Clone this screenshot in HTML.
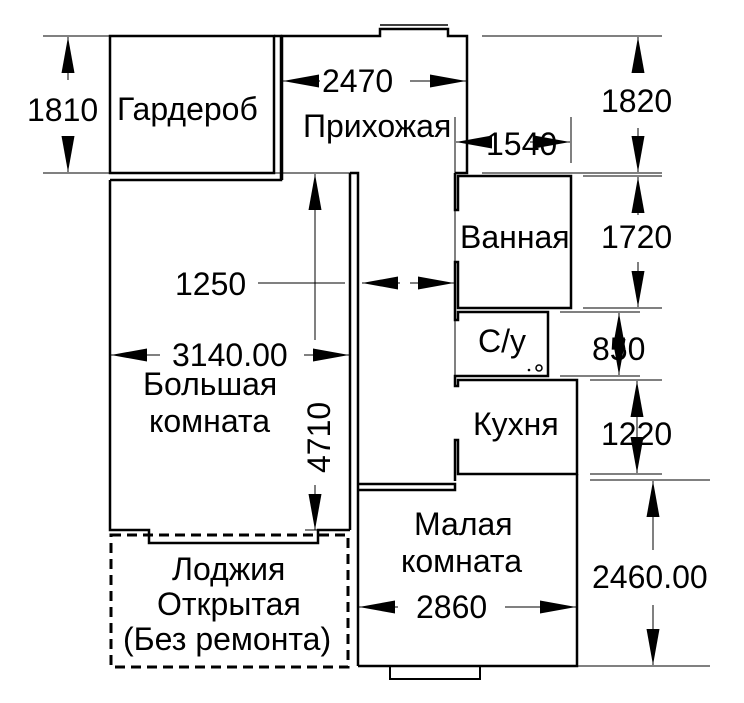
<!DOCTYPE html>
<html><head><meta charset="utf-8"><style>
html,body{margin:0;padding:0;background:#fff}
svg{display:block}
text{font-family:"Liberation Sans",sans-serif;fill:#000}
</style></head><body>
<svg width="744" height="703" viewBox="0 0 744 703" xmlns="http://www.w3.org/2000/svg">
<defs>
<marker id="v" viewBox="0 0 10 10" refX="10" refY="5" markerWidth="36" markerHeight="13" markerUnits="userSpaceOnUse" orient="auto-start-reverse" preserveAspectRatio="none"><path d="M0,0 L10,5 L0,10 z"/></marker>
</defs>
<g stroke="#000" fill="none" stroke-width="2.5">
<rect x="110" y="36" width="164" height="137"/>
<polyline points="274,36 281,36 281,180 110,180"/>
<polyline points="282,180 282,36 380,36 380,29 448,29 448,36 467,36 467,173 455,173"/>
<line x1="380" y1="25" x2="448" y2="25" stroke-width="1.5"/>
<line x1="350" y1="173" x2="350" y2="530"/>
<polyline points="350,173 358,173 358,666"/>
<polyline points="110,180 110,530 149,530 149,543 318,543 318,530 350,530"/>
<rect x="111" y="535" width="237" height="132" stroke-dasharray="10,6" stroke-width="3"/>
<polyline points="455,173 455,210 458,210 458,176 571,176 571,308 458,308 458,262 455,262 455,320 458,320 458,312 548,312 548,376 458,376 455,376 455,386 458,386 458,380 577,380 577,474 458,474 458,440 455,440 455,481"/>
<line x1="455" y1="210" x2="455" y2="262" stroke-width="1"/>
<line x1="455" y1="320" x2="455" y2="376" stroke-width="1"/>
<polyline points="358,484 455,484 455,490 358,490"/>
<polyline points="358,666 577,666 577,474"/>
<rect x="390" y="666" width="90" height="13" stroke-width="2"/>
<circle cx="539" cy="368" r="3" stroke-width="1.5"/>
</g>
<circle cx="529" cy="370" r="1.3"/>
<g stroke="#000" stroke-width="1">
<line x1="43" y1="36" x2="110" y2="36"/>
<line x1="43" y1="173" x2="352" y2="173"/>
<line x1="482" y1="36" x2="662" y2="36"/>
<line x1="482" y1="173" x2="662" y2="173"/>
<line x1="583" y1="176" x2="662" y2="176"/>
<line x1="583" y1="308" x2="662" y2="308"/>
<line x1="560" y1="312" x2="640" y2="312"/>
<line x1="560" y1="376" x2="640" y2="376"/>
<line x1="590" y1="380" x2="662" y2="380"/>
<line x1="590" y1="474" x2="662" y2="474"/>
<line x1="590" y1="480" x2="710" y2="480"/>
<line x1="577" y1="666" x2="710" y2="666"/>
<line x1="455" y1="117" x2="455" y2="173"/>
<line x1="571" y1="117" x2="571" y2="163"/>
<line x1="305" y1="530" x2="330" y2="530"/>
</g>
<g stroke="#000" stroke-width="1" fill="none">
<line x1="68" y1="80" x2="68" y2="37" marker-end="url(#v)"/>
<line x1="68" y1="136" x2="68" y2="172" marker-end="url(#v)"/>
<line x1="320" y1="81" x2="283" y2="81" marker-end="url(#v)"/>
<line x1="410" y1="81" x2="466" y2="81" marker-end="url(#v)"/>
<line x1="490" y1="142" x2="456" y2="142" marker-end="url(#v)"/>
<line x1="530" y1="142" x2="570" y2="142" marker-end="url(#v)"/>
<line x1="638" y1="72" x2="638" y2="37" marker-end="url(#v)"/>
<line x1="638" y1="128" x2="638" y2="172" marker-end="url(#v)"/>
<line x1="638" y1="215" x2="638" y2="177" marker-end="url(#v)"/>
<line x1="638" y1="262" x2="638" y2="307" marker-end="url(#v)"/>
<line x1="619" y1="345" x2="619" y2="313" marker-end="url(#v)"/>
<line x1="619" y1="345" x2="619" y2="375" marker-end="url(#v)"/>
<line x1="637" y1="425" x2="637" y2="381" marker-end="url(#v)"/>
<line x1="637" y1="425" x2="637" y2="473" marker-end="url(#v)"/>
<line x1="653" y1="550" x2="653" y2="481" marker-end="url(#v)"/>
<line x1="653" y1="605" x2="653" y2="665" marker-end="url(#v)"/>
<line x1="398" y1="607" x2="359" y2="607" marker-end="url(#v)"/>
<line x1="505" y1="607" x2="576" y2="607" marker-end="url(#v)"/>
<line x1="160" y1="355" x2="111" y2="355" marker-end="url(#v)"/>
<line x1="304" y1="355" x2="349" y2="355" marker-end="url(#v)"/>
<line x1="315" y1="340" x2="315" y2="174" marker-end="url(#v)"/>
<line x1="315" y1="485" x2="315" y2="530" marker-end="url(#v)"/>
<line x1="258" y1="283" x2="345" y2="283"/>
<line x1="400" y1="283" x2="362" y2="283" marker-end="url(#v)"/>
<line x1="410" y1="283" x2="454" y2="283" marker-end="url(#v)"/>
</g>
<g font-size="32">
<text x="27" y="121">1810</text>
<text x="117" y="120">Гардероб</text>
<text x="322" y="92">2470</text>
<text x="303" y="137">Прихожая</text>
<text x="486" y="155">1540</text>
<text x="601" y="112">1820</text>
<text x="460" y="248">Ванная</text>
<text x="601" y="248">1720</text>
<text x="478" y="352">С/у</text>
<text x="592" y="360">850</text>
<text x="473" y="435">Кухня</text>
<text x="601" y="445">1220</text>
<text x="175" y="295">1250</text>
<text x="172" y="366">3140.00</text>
<text x="143" y="395">Большая</text>
<text x="149" y="432">комната</text>
<text transform="translate(330,473) rotate(-90)">4710</text>
<text x="172" y="580">Лоджия</text>
<text x="157" y="615">Открытая</text>
<text x="123" y="650">(Без ремонта)</text>
<text x="414" y="535">Малая</text>
<text x="401" y="572">комната</text>
<text x="416" y="618">2860</text>
<text x="592" y="588">2460.00</text>
</g>
</svg>
</body></html>
